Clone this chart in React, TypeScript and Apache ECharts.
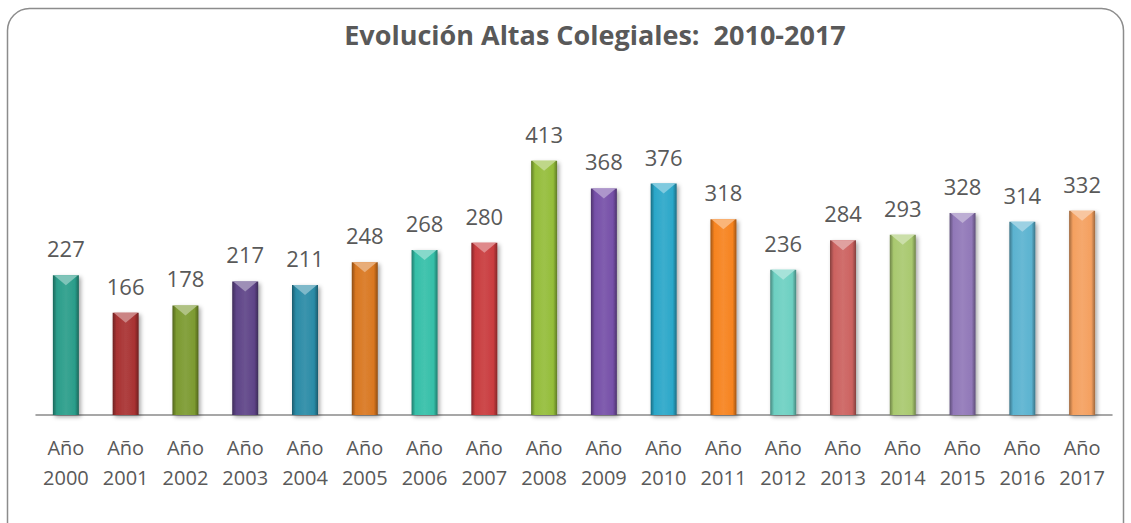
import React, { useEffect, useRef } from "react";
import * as echarts from "echarts";

const titleText = "Evolución Altas Colegiales:  2010-2017";
const years = [
  "2000", "2001", "2002", "2003", "2004", "2005", "2006", "2007", "2008",
  "2009", "2010", "2011", "2012", "2013", "2014", "2015", "2016", "2017",
];
const categories = years.map((y) => "Año\n" + y);
const values = [227, 166, 178, 217, 211, 248, 268, 280, 413, 368, 376, 318, 236, 284, 293, 328, 314, 332];
const barColors = [
  "#2A9D8A", "#A83232", "#7C9A30", "#5E4487", "#2A8BA6", "#D97720",
  "#35BFA8", "#C93B3E", "#94BD3A", "#7650A8", "#2BA7C9", "#F6831F",
  "#6DD0C2", "#CC6260", "#A9C96F", "#9178B8", "#5BB3D0", "#F4A060",
];

function mix(hex: string, target: number, t: number): string {
  const n = parseInt(hex.slice(1), 16);
  const r = (n >> 16) & 255, g = (n >> 8) & 255, b = n & 255;
  const f = (c: number) => Math.round(c + (target - c) * t);
  return `rgb(${f(r)},${f(g)},${f(b)})`;
}

const BAR_W = 26;

export default function App() {
  const ref = useRef<HTMLDivElement>(null);
  useEffect(() => {
    if (!ref.current) return;
    const chart = echarts.init(ref.current, undefined, { renderer: "svg" });
    const font = "'Open Sans', 'Liberation Sans', sans-serif";
    chart.setOption({
      animation: false,
      backgroundColor: "#ffffff",
      title: {
        text: titleText,
        left: 590,
        textAlign: "center",
        top: 16,
        textStyle: { fontFamily: font, fontSize: 27, fontWeight: "bold", color: "#595959" },
      },
      graphic: [
        {
          type: "rect",
          shape: { x: 7.5, y: 8.5, width: 1116, height: 560, r: 22 },
          style: { fill: "none", stroke: "#8c8c8c", lineWidth: 1.5 },
          silent: true,
        },
      ],
      grid: { left: 36, right: 19, top: 138, bottom: 108, containLabel: false },
      xAxis: {
        type: "category",
        data: categories,
        axisLine: { show: true, lineStyle: { color: "#8a8a8a", width: 1.5 } },
        axisTick: { show: false },
        axisLabel: {
          interval: 0,
          margin: 17,
          color: "#595959",
          fontFamily: font,
          fontSize: 20,
          lineHeight: 30,
        },
      },
      yAxis: {
        type: "value",
        min: 0,
        max: 450,
        show: false,
        splitLine: { show: false },
      },
      series: [
        {
          type: "bar",
          barWidth: BAR_W,
          data: values.map((v, i) => ({
            value: v,
            itemStyle: {
              color: new echarts.graphic.LinearGradient(0, 0, 1, 0, [
                { offset: 0, color: mix(barColors[i], 0, 0.35) },
                { offset: 0.15, color: barColors[i] },
                { offset: 0.5, color: mix(barColors[i], 255, 0.08) },
                { offset: 0.85, color: barColors[i] },
                { offset: 1, color: mix(barColors[i], 0, 0.35) },
              ]),
              shadowColor: "rgba(0,0,0,0.35)",
              shadowBlur: 4,
              shadowOffsetX: 2,
              shadowOffsetY: 2,
            },
          })),
          label: {
            show: true,
            position: "top",
            distance: 16,
            color: "#595959",
            fontFamily: font,
            fontSize: 22,
          },
        },
        {
          type: "custom",
          silent: true,
          data: values.map((v, i) => [i, v]),
          renderItem: (params: any, api: any) => {
            const i = api.value(0);
            const p = api.coord([i, api.value(1)]);
            const hw = BAR_W / 2 - 1;
            return {
              type: "polygon",
              shape: {
                points: [
                  [p[0] - hw, p[1]],
                  [p[0] + hw, p[1]],
                  [p[0], p[1] + 10],
                ],
              },
              style: { fill: mix(barColors[i], 255, 0.4) },
            };
          },
          z: 3,
        },
      ],
    });
    return () => chart.dispose();
  }, []);
  return (
    <div
      ref={ref}
      style={{ position: "fixed", left: 0, top: 0, width: 1131, height: 523, background: "#fff" }}
    />
  );
}
